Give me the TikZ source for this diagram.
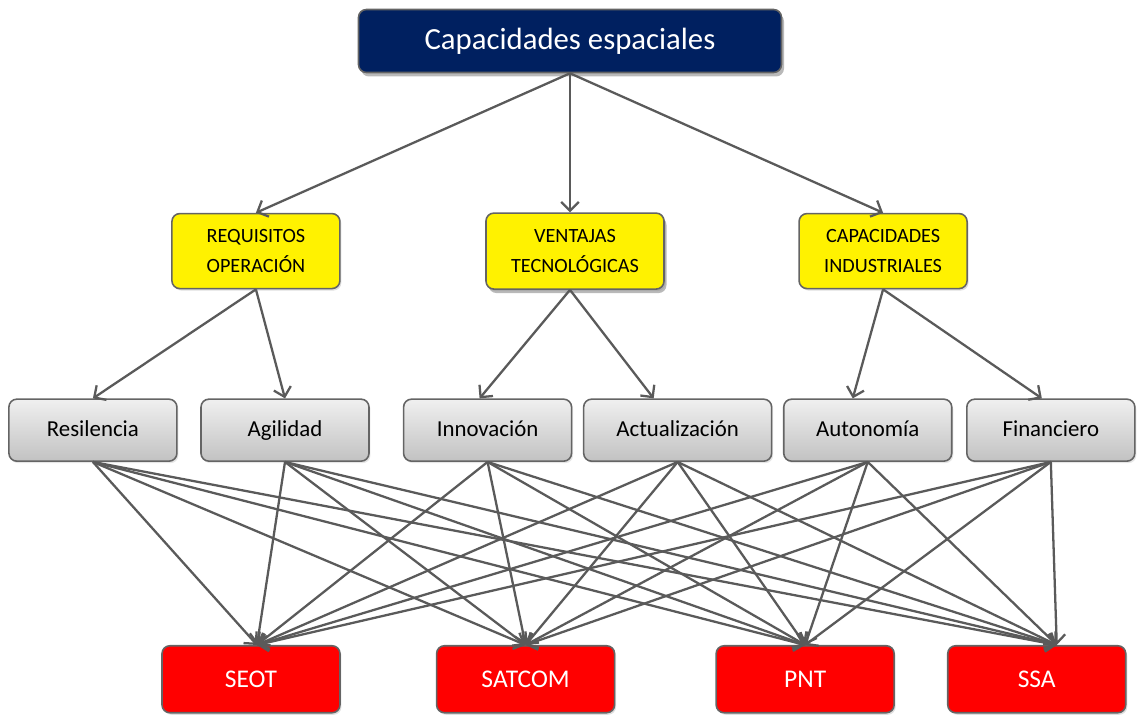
\documentclass[tikz,border=0pt]{standalone}
\usepackage{fontspec}
\setmainfont{Carlito}
\usepackage{xcolor}
\usepackage{tikz}
\usetikzlibrary{positioning,shadows,arrows.meta}

\definecolor{azul}{RGB}{0,32,96}
\definecolor{borde}{RGB}{100,100,100}
\definecolor{linea}{RGB}{90,90,90}

\begin{document}
\begin{tikzpicture}[node distance=1cm,
        caja/.style={rectangle, rounded corners=4.5pt, draw=borde, line width=0.9pt, align=center, inner sep=2pt},
        titulo/.style={caja, fill=azul, text=white, minimum width=8.46cm, minimum height=1.26cm, font=\fontsize{17.5}{20}\selectfont, drop shadow={opacity=0.55, shadow xshift=0.05cm, shadow yshift=-0.08cm}},
        area/.style={caja, fill=yellow, minimum width=3.36cm, minimum height=1.5cm, font=\fontsize{11.5}{17}\selectfont, drop shadow={opacity=0.25, shadow xshift=0.03cm, shadow yshift=-0.04cm}},
        factor/.style={caja, top color=gray!12, bottom color=gray!48, minimum width=3.36cm, minimum height=1.24cm, text height=9pt, text depth=2pt, font=\fontsize{13}{15}\selectfont, drop shadow={opacity=0.2, shadow xshift=0.03cm, shadow yshift=-0.04cm}},
        mision/.style={caja, fill=red, text=white, minimum width=3.56cm, minimum height=1.34cm, font=\fontsize{14.5}{16}\selectfont, drop shadow={opacity=0.25, shadow xshift=0.03cm, shadow yshift=-0.04cm}},
        flecha/.style={draw=linea, line width=1.3pt, -{Straight Barb[length=5pt,width=10pt]}}]
        \useasboundingbox (-11.4,0.82) rectangle (11.38,-13.5);

        \node[titulo] (esp) {Capacidades espaciales};

        \node[area] (ven) [below = 2.78cm of esp, xshift=0.1cm, minimum width=3.56cm, minimum height=1.52cm,
            drop shadow={opacity=0.55, shadow xshift=0.05cm, shadow yshift=-0.08cm}] {VENTAJAS\\TECNOLÓGICAS};
        \node[area] (req) [left = 2.89cm of ven] {REQUISITOS\\OPERACIÓN};
        \node[area] (cap) [right = 2.67cm of ven] {CAPACIDADES\\INDUSTRIALES};

        \node[factor] (res) [below = 2.18cm of req, xshift=-3.26cm] {Resilencia};
        \node[factor] (agi) [right = 0.45cm of res] {Agilidad};
        \node[factor] (inn) [right = 0.66cm of agi] {Innovación};
        \node[factor] (act) [right = 0.21cm of inn, minimum width=3.76cm] {Actualización};
        \node[factor] (aut) [right = 0.21cm of act] {Autonomía};
        \node[factor] (fin) [right = 0.27cm of aut] {Financiero};

        \node[mision] (seot) [below = 3.66cm of agi, xshift=-0.68cm] {SEOT};
        \node[mision] (satcom) [right = 1.9cm of seot] {SATCOM};
        \node[mision] (pnt) [right = 2.0cm of satcom] {PNT};
        \node[mision] (ssa) [right = 1.04cm of pnt] {SSA};

        \path
        (esp.south) edge [flecha] (req.north)
        (esp.south) edge [flecha] ([xshift=-0.1cm]ven.north)
        (esp.south) edge [flecha] (cap.north)
        (req.south) edge [flecha] (res.north)
        (req.south) edge [flecha] (agi.north)
        ([xshift=-0.1cm]ven.south) edge [flecha] ([xshift=-0.16cm]inn.north)
        ([xshift=-0.1cm]ven.south) edge [flecha] ([xshift=-0.48cm]act.north)
        (cap.south) edge [flecha] ([xshift=-0.3cm]aut.north)
        (cap.south) edge [flecha] ([xshift=-0.18cm]fin.north);

        \foreach \g in {res,agi,inn,act,aut,fin}
            \foreach \m/\d in {seot/0.12cm, satcom/0cm, pnt/0cm, ssa/0.4cm}
                \path (\g.south) edge [flecha] ([xshift=\d]\m.north);
\end{tikzpicture}
\end{document}
